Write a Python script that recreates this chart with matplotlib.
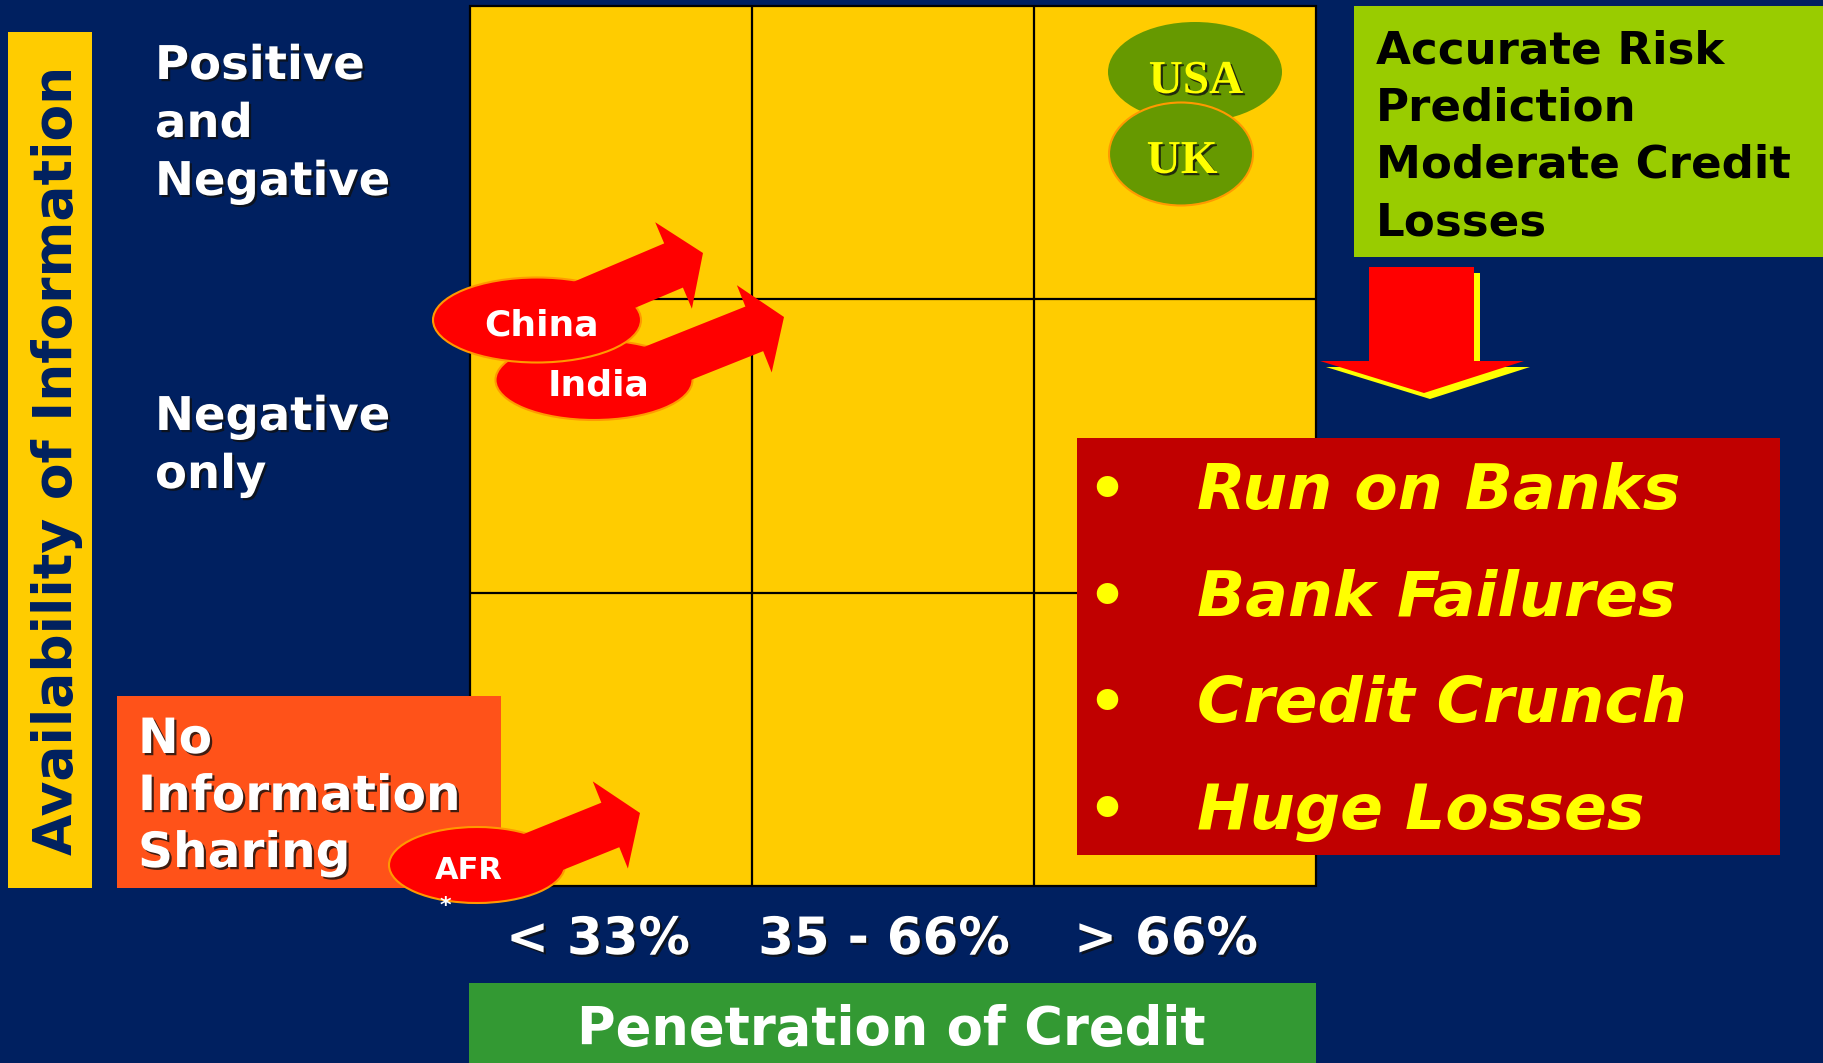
import numpy as np
import matplotlib
matplotlib.use('Agg')
import matplotlib.pyplot as plt
import matplotlib.patches as mpatches
import matplotlib.patheffects as pe

# ---- slide content
y_title = 'Availability of Information'
x_title = 'Penetration of Credit'
col_labels = ['< 33%', '35 - 66%', '> 66%']
row_labels = ['Positive\nand\nNegative', 'Negative\nonly']
no_info_label = 'No\nInformation\nSharing'
good_outcome = 'Accurate Risk\nPrediction\nModerate Credit\nLosses'
bad_outcomes = ['Run on Banks', 'Bank Failures', 'Credit Crunch', 'Huge Losses']
moving_countries = ['India', 'China', 'AFR']
top_countries = ['USA', 'UK']

# ---- colours
navy = '#002060'
gold = '#FFCC00'
lime = '#99CC00'
olive = '#669900'
dark_red = '#C00000'
orange_red = '#FF5219'
green = '#339933'

W, H = 1824, 1063
fig = plt.figure(figsize=(W/100, H/100), dpi=100, facecolor=navy)
ax = fig.add_axes([0, 0, 1, 1])
ax.set_xlim(0, W)
ax.set_ylim(H, 0)
ax.axis('off')
ax.set_facecolor(navy)

shadow = [pe.withSimplePatchShadow(offset=(1.6, -1.6), shadow_rgbFace='#101010', alpha=0.8)]

def stacked(txt, x, y, step, **kw):
    # one text per line so the baselines sit where the slide has them
    for i, s in enumerate(txt.split('\n')):
        ax.text(x, y + i*step, s, ha='left', va='baseline', zorder=5, **kw)

# y axis label bar
ax.add_patch(mpatches.Rectangle((8, 32), 84, 856, fc=gold, ec='none'))
ax.text(72, 460, y_title, rotation=90, rotation_mode='anchor', ha='center', va='baseline',
        fontsize=38.5, fontweight='bold', color=navy, zorder=5)

# 3x3 grid
gx = np.linspace(470, 1316, 4)
gy = np.linspace(6, 886, 4)
ax.add_patch(mpatches.Rectangle((gx[0], gy[0]), gx[-1]-gx[0], gy[-1]-gy[0], fc=gold, ec='black', lw=1.6, zorder=1))
ax.vlines(gx[1:-1], gy[0], gy[-1], color='black', lw=1.6, zorder=1)
ax.hlines(gy[1:-1], gx[0], gx[-1], color='black', lw=1.6, zorder=1)

# row labels
for lab, yb in zip(row_labels, [79, 430]):
    stacked(lab, 155, yb, 58, fontsize=33.5, fontweight='bold', color='white', path_effects=shadow)

ax.add_patch(mpatches.Rectangle((117, 696), 384, 192, fc=orange_red, ec='none', zorder=1))
stacked(no_info_label, 138, 753, 57, fontsize=35, fontweight='bold', color='white', path_effects=shadow)

# column labels
for lab, xc in zip(col_labels, [598, 884, 1166]):
    ax.text(xc, 954, lab, ha='center', va='baseline', fontsize=37, fontweight='bold',
            color='white', path_effects=shadow, zorder=5)

# outcome box, top right
ax.add_patch(mpatches.Rectangle((1354, 6), 480, 251, fc=lime, ec='none', zorder=1))
stacked(good_outcome, 1376, 63, 57.5, fontsize=32.5, fontweight='bold', color='black')

# USA / UK
ax.add_patch(mpatches.Ellipse((1195, 72), 174, 100, fc=olive, ec='none', zorder=1))
ax.add_patch(mpatches.Ellipse((1181, 154), 144, 103, fc=olive, ec='#FF9900', lw=1.5, zorder=1))
for name, (cx, cy) in zip(top_countries, [(1196, 93), (1182, 173)]):
    ax.text(cx, cy, name, ha='center', va='baseline', family='Liberation Serif', fontweight='bold',
            fontsize=34, color='#FFFF00', path_effects=shadow, zorder=5)

# countries moving right: ellipse + arrow
ell = {'India': (594, 380, 197, 80), 'China': (537, 320, 208, 85), 'AFR': (477, 865, 176, 76)}
arr = {'India': ((626, 380), (784, 317)), 'China': ((545, 320), (703, 253)), 'AFR': ((511, 865), (640, 813))}
txt = {'India': (599, 396, 26), 'China': (542, 336, 26), 'AFR': (469, 879, 22)}
for name in moving_countries:
    cx, cy, w, h = ell[name]
    ax.add_patch(mpatches.Ellipse((cx, cy), w, h, fc='#FF0000', ec='#FF9900', lw=1.5, zorder=1))
    (tx, ty), (hx, hy) = arr[name]
    ax.add_patch(mpatches.FancyArrow(tx, ty, hx-tx, hy-ty, width=48, head_width=94, head_length=32,
                                     length_includes_head=True, fc='#FF0000', ec='none', zorder=1))
    lx, ly, fs = txt[name]
    ax.text(lx, ly, name, ha='center', va='baseline', fontsize=fs, fontweight='bold', color='white', zorder=5)
ax.text(445, 912, '*', ha='center', va='baseline', fontsize=16, fontweight='bold', color='white', zorder=5)

# crisis box
ax.add_patch(mpatches.Rectangle((1077, 438), 703, 417, fc=dark_red, ec='none', zorder=1))
for i, item in enumerate(bad_outcomes):
    yb = 509 + i*106.7
    ax.text(1107, yb, '\u2022', ha='center', va='baseline', fontsize=44, fontweight='bold', color='#FFFF00', zorder=5)
    ax.text(1197, yb, item, ha='left', va='baseline', fontsize=45.5, fontweight='bold', style='oblique',
            color='#FFFF00', zorder=5)

# down arrow with yellow shadow
down = np.array([[1369, 267], [1474, 267], [1474, 361], [1524, 361], [1424, 393], [1320, 361], [1369, 361]])
ax.add_patch(mpatches.Polygon(down + [6, 6], closed=True, fc='#FFFF00', ec='none', zorder=1))
ax.add_patch(mpatches.Polygon(down, closed=True, fc='#FF0000', ec='none', zorder=1))

# x axis label bar
ax.add_patch(mpatches.Rectangle((469, 983), 847, 90, fc=green, ec='none', zorder=1))
ax.text(891, 1045, x_title, ha='center', va='baseline', fontsize=38, fontweight='bold', color='white', zorder=5)

fig.savefig('out.png', dpi=100, facecolor=navy)
